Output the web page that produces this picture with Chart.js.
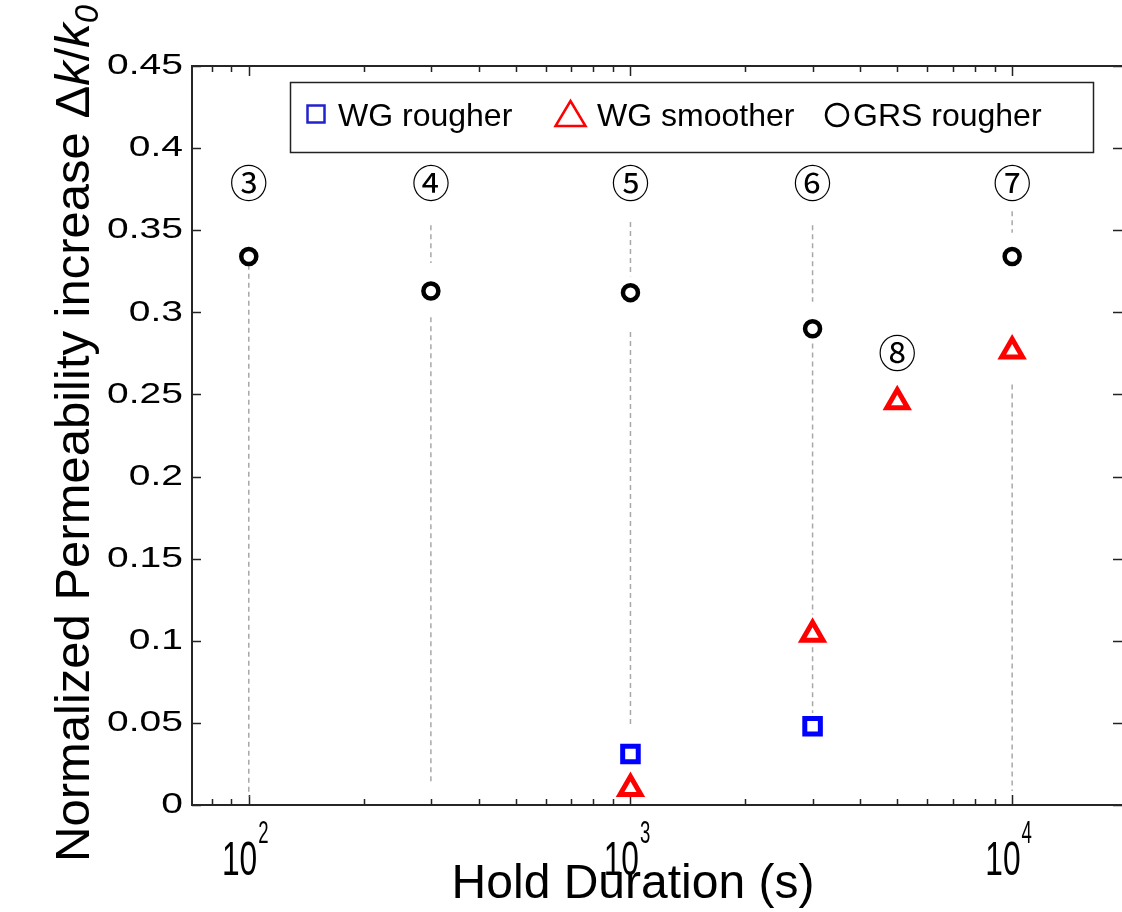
<!DOCTYPE html>
<html>
<head>
<meta charset="utf-8">
<script src="https://cdn.jsdelivr.net/npm/chart.js@4.4.1/dist/chart.umd.min.js"></script>
<style>
html, body { margin:0; padding:0; background:#fff; overflow:hidden; }
</style>
</head>
<body>
<canvas id="permChart" width="1122" height="912"></canvas>
<script>
// hold duration (s) / normalized permeability increase
var wgRougherX = [1000, 3000];
var wgRougherY = [0.031, 0.048];
var wgSmootherX = [1000, 3000, 5000, 10000];
var wgSmootherY = [0.010, 0.104, 0.2455, 0.2765];
var grsRougherX = [100, 300, 1000, 3000, 10000];
var grsRougherY = [0.334, 0.313, 0.312, 0.290, 0.334];

// experiment numbers above the columns
var expLabels = ['③', '④', '⑤', '⑥', '⑦', '⑧'];
var expLabelX = [100, 300, 1000, 3000, 10000, 5000];
var expLabelY = [0.380, 0.380, 0.380, 0.380, 0.380, 0.2765];

// dashed guide pieces: [x, top, bottom]
var guideSegments = [
    [100, 0.329, 0.005],
    [300, 0.353, 0.330], [300, 0.297, 0.014],
    [1000, 0.355, 0.322], [1000, 0.288, 0.047],
    [3000, 0.353, 0.3065], [3000, 0.281, 0.116], [3000, 0.096, 0.056],
    [10000, 0.3615, 0.3485], [10000, 0.256, 0.0085]
];

var yTicks = [0, 0.05, 0.1, 0.15, 0.2, 0.25, 0.3, 0.35, 0.4, 0.45];
var yTickLabels = ['0', '0.05', '0.1', '0.15', '0.2', '0.25', '0.3', '0.35', '0.4', '0.45'];
var xMajorTicks = [100, 1000, 10000];
var xTickBase = ['10', '10', '10'];
var xTickExp = ['2', '3', '4'];
var xMinorTicks = [80, 90, 200, 300, 400, 500, 600, 700, 800, 900,
    2000, 3000, 4000, 5000, 6000, 7000, 8000, 9000];

function pts(xs, ys) {
    var out = [];
    for (var i = 0; i < xs.length; i++) out.push({x: xs[i], y: ys[i]});
    return out;
}

var guideData = [];
guideSegments.forEach(function(s) {
    guideData.push({x: s[0], y: s[1]}, {x: s[0], y: s[2]}, {x: s[0], y: null});
});

var FONT = '"Liberation Sans", Arial, sans-serif';

// axes frame, inward ticks, tick labels, titles
var axesPlugin = {
    id: 'matlabAxes',
    beforeDatasetsDraw: function(chart) {
        var ctx = chart.ctx, a = chart.chartArea;
        var xs = chart.scales.x, ys = chart.scales.y;
        ctx.save();
        ctx.strokeStyle = '#222';
        ctx.lineWidth = 1.5;
        ctx.beginPath();
        yTicks.forEach(function(v) {
            var y = Math.round(ys.getPixelForValue(v)) + 0.5;
            ctx.moveTo(a.left, y); ctx.lineTo(a.left + 9, y);
            ctx.moveTo(a.right, y); ctx.lineTo(a.right - 9, y);
        });
        xMajorTicks.forEach(function(v) {
            var x = Math.round(xs.getPixelForValue(v)) + 0.5;
            ctx.moveTo(x, a.bottom); ctx.lineTo(x, a.bottom - 10);
            ctx.moveTo(x, a.top); ctx.lineTo(x, a.top + 10);
        });
        xMinorTicks.forEach(function(v) {
            var x = Math.round(xs.getPixelForValue(v)) + 0.5;
            ctx.moveTo(x, a.bottom); ctx.lineTo(x, a.bottom - 6);
            ctx.moveTo(x, a.top); ctx.lineTo(x, a.top + 6);
        });
        ctx.stroke();

        ctx.lineWidth = 2;
        ctx.strokeStyle = '#262626';
        ctx.beginPath();
        ctx.moveTo(a.right, a.top); ctx.lineTo(a.left, a.top);
        ctx.lineTo(a.left, a.bottom); ctx.lineTo(a.right, a.bottom);
        ctx.stroke();

        // y tick labels (wide face)
        ctx.fillStyle = '#000';
        ctx.font = '30px ' + FONT;
        ctx.textAlign = 'right';
        ctx.textBaseline = 'middle';
        yTicks.forEach(function(v, i) {
            ctx.save();
            ctx.translate(183, ys.getPixelForValue(v));
            ctx.scale(1.3, 1);
            ctx.fillText(yTickLabels[i], 0, 0);
            ctx.restore();
        });

        // x tick labels 10^n (narrow face)
        ctx.textAlign = 'left';
        ctx.textBaseline = 'alphabetic';
        xMajorTicks.forEach(function(v, i) {
            var x = xs.getPixelForValue(v);
            ctx.font = '48px ' + FONT;
            var wb = ctx.measureText(xTickBase[i]).width * 0.66;
            ctx.font = '31px ' + FONT;
            var we = ctx.measureText(xTickExp[i]).width * 0.6;
            var x0 = x - 4 - (wb + we) / 2;
            ctx.save();
            ctx.translate(x0, 875);
            ctx.scale(0.66, 1);
            ctx.font = '48px ' + FONT;
            ctx.fillText(xTickBase[i], 0, 0);
            ctx.restore();
            ctx.save();
            ctx.translate(x0 + wb + 1, 843);
            ctx.scale(0.6, 1);
            ctx.font = '31px ' + FONT;
            ctx.fillText(xTickExp[i], 0, 0);
            ctx.restore();
        });

        // x title
        ctx.fillStyle = '#000';
        ctx.font = '48px ' + FONT;
        ctx.textAlign = 'center';
        ctx.fillText('Hold Duration (s)', 633, 898);

        // y title
        ctx.save();
        ctx.translate(89, 862);
        ctx.rotate(-Math.PI / 2);
        ctx.textAlign = 'left';
        var px = 0;
        var parts = [
            ['Normalized Permeability increase Δ', '49px ' + FONT, 0],
            ['k', 'italic 49px ' + FONT, 0],
            ['/', '49px ' + FONT, 0],
            ['k', 'italic 49px ' + FONT, 0],
            ['0', 'italic 33px ' + FONT, 9]
        ];
        parts.forEach(function(p) {
            ctx.font = p[1];
            ctx.fillText(p[0], px, p[2]);
            px += ctx.measureText(p[0]).width;
        });
        ctx.restore();
        ctx.restore();
    }
};

// circled experiment numbers and boxed legend
var overlayPlugin = {
    id: 'overlay',
    afterDatasetsDraw: function(chart) {
        var ctx = chart.ctx;
        var xs = chart.scales.x, ys = chart.scales.y;
        ctx.save();
        ctx.fillStyle = '#000';
        ctx.font = '38px "Noto Sans CJK JP", "DejaVu Sans", sans-serif';
        ctx.textAlign = 'center';
        ctx.textBaseline = 'middle';
        expLabels.forEach(function(t, i) {
            ctx.fillText(t, xs.getPixelForValue(expLabelX[i]), ys.getPixelForValue(expLabelY[i]) + 2);
        });

        // legend box
        ctx.fillStyle = '#fff';
        ctx.fillRect(290, 82, 803, 70);
        ctx.strokeStyle = '#222';
        ctx.lineWidth = 1.5;
        ctx.strokeRect(290.5, 82.5, 803, 70);

        ctx.lineWidth = 2.5;
        ctx.strokeStyle = '#2222cc';
        ctx.strokeRect(307.5, 105.5, 17, 17);

        ctx.strokeStyle = '#ff0000';
        ctx.beginPath();
        ctx.moveTo(570.5, 101); ctx.lineTo(585.5, 126); ctx.lineTo(555.5, 126);
        ctx.closePath();
        ctx.stroke();

        ctx.strokeStyle = '#000';
        ctx.beginPath();
        ctx.arc(837, 115, 11, 0, Math.PI * 2);
        ctx.stroke();

        ctx.fillStyle = '#000';
        ctx.font = '32px ' + FONT;
        ctx.textAlign = 'left';
        ctx.textBaseline = 'alphabetic';
        var ds = chart.data.datasets;
        ctx.fillText(ds[0].label, 338, 126);
        ctx.fillText(ds[1].label, 597, 126);
        ctx.fillText(ds[2].label, 853, 126);
        ctx.restore();
    }
};

var permChart = new Chart(document.getElementById('permChart'), {
    type: 'scatter',
    data: {
        datasets: [{
            label: 'WG rougher',
            data: pts(wgRougherX, wgRougherY),
            pointStyle: 'rect',
            pointRadius: 11,
            pointBorderWidth: 5,
            borderColor: '#0000ff',
            backgroundColor: '#ffffff'
        }, {
            label: 'WG smoother',
            data: pts(wgSmootherX, wgSmootherY),
            pointStyle: 'triangle',
            pointRadius: 12,
            pointBorderWidth: 5,
            borderColor: '#ff0000',
            backgroundColor: '#ffffff'
        }, {
            label: 'GRS rougher',
            data: pts(grsRougherX, grsRougherY),
            pointStyle: 'circle',
            pointRadius: 7.5,
            pointBorderWidth: 4.5,
            borderColor: '#000000',
            backgroundColor: '#ffffff'
        }, {
            label: 'guides',
            data: guideData,
            showLine: true,
            spanGaps: false,
            pointRadius: 0,
            borderColor: '#a8a8a8',
            borderWidth: 1.5,
            borderDash: [5, 4]
        }]
    },
    options: {
        responsive: false,
        animation: false,
        layout: { autoPadding: false, padding: { left: 192, top: 66, right: 0, bottom: 107 } },
        plugins: { legend: { display: false }, tooltip: { enabled: false } },
        scales: {
            x: { type: 'logarithmic', min: 71, max: 19400, display: false },
            y: { type: 'linear', min: 0, max: 0.45, display: false }
        }
    },
    plugins: [axesPlugin, overlayPlugin]
});
</script>
</body>
</html>
